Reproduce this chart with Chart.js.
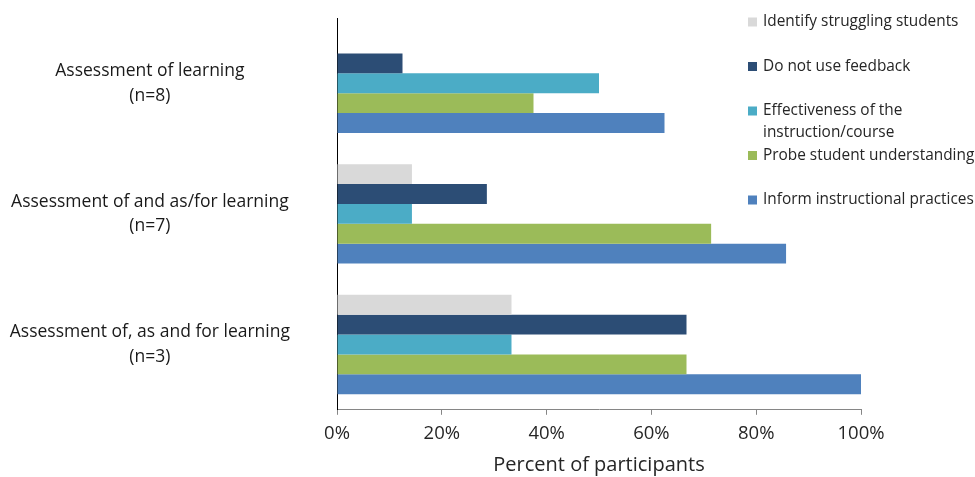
<!DOCTYPE html>
<html>
<head>
<meta charset="utf-8">
<script src="https://cdn.jsdelivr.net/npm/chart.js@4"></script>
<style>
  html, body { margin: 0; padding: 0; background: #fff; }
  #wrap { width: 975px; height: 477px; }
</style>
</head>
<body>
<div id="wrap"><canvas id="grafico" width="975" height="477"></canvas></div>
<script>
// Categorías (eje Y), cada una en dos líneas
const categorias = [
    ['Assessment of learning', '(n=8)'],
    ['Assessment of and as/for learning', '(n=7)'],
    ['Assessment of, as and for learning', '(n=3)']
];

// Porcentaje de participantes por uso
const identificar = [0, 14.3, 33.3];
const noUsan = [12.5, 28.6, 66.7];
const efectividad = [50, 14.3, 33.3];
const sondear = [37.5, 71.4, 66.7];
const informar = [62.5, 85.7, 100];

const nombresSeries = [
    'Identify struggling students',
    'Do not use feedback',
    'Effectiveness of the instruction/course',
    'Probe student understanding',
    'Inform instructional practices'
];
const coloresSeries = ['#d9d9d9', '#2c4d75', '#4bacc6', '#9bbb59', '#4f81bd'];
const ticksX = [0, 20, 40, 60, 80, 100];

const fuente = '"Open Sans", "Liberation Sans", sans-serif';

// Leyenda dibujada a mano a la derecha, con ajuste de línea
const leyendaDerecha = {
    id: 'leyendaDerecha',
    afterDraw(chart) {
        const ctx = chart.ctx;
        const xCuadro = 748, xTexto = 763, yInicio = 22, paso = 44.5, alto = 22;
        const maxAncho = chart.width - xTexto;
        ctx.save();
        ctx.font = '15.4px ' + fuente;
        ctx.textBaseline = 'middle';
        ctx.textAlign = 'left';
        chart.data.datasets.forEach((ds, i) => {
            const y = yInicio + i * paso;
            ctx.fillStyle = ds.backgroundColor;
            ctx.fillRect(xCuadro, y - 4.5, 9, 9);
            // separar en líneas según el ancho disponible
            const palabras = ds.label.split(' ');
            const lineas = [];
            let actual = '';
            palabras.forEach(p => {
                const prueba = actual ? actual + ' ' + p : p;
                if (ctx.measureText(prueba).width > maxAncho && actual) {
                    lineas.push(actual);
                    actual = p;
                } else {
                    actual = prueba;
                }
            });
            lineas.push(actual);
            ctx.fillStyle = '#262626';
            lineas.forEach((l, j) => ctx.fillText(l, xTexto, y + j * alto));
        });
        ctx.restore();
    }
};

const series = [identificar, noUsan, efectividad, sondear, informar];

const chart = new Chart(document.getElementById('grafico'), {
    type: 'bar',
    data: {
        labels: categorias,
        datasets: series.map((valores, i) => ({
            label: nombresSeries[i],
            data: valores,
            backgroundColor: coloresSeries[i],
            borderWidth: 0,
            categoryPercentage: 0.76,
            barPercentage: 1
        }))
    },
    options: {
        indexAxis: 'y',
        responsive: false,
        animation: false,
        layout: { padding: { top: 18, right: 114, left: 0, bottom: 0 } },
        plugins: {
            legend: { display: false },
            tooltip: { enabled: false }
        },
        scales: {
            x: {
                min: 0,
                max: 100,
                afterBuildTicks: (scale) => { scale.ticks = ticksX.map(v => ({ value: v })); },
                grid: { drawOnChartArea: false, drawTicks: true, tickLength: 5, color: '#868686' },
                border: { color: '#868686', width: 1 },
                ticks: {
                    callback: v => v + '%',
                    color: '#262626',
                    font: { family: fuente, size: 18.5 },
                    padding: 8
                },
                title: {
                    display: true,
                    text: 'Percent of participants',
                    color: '#262626',
                    font: { family: fuente, size: 20 },
                    padding: { top: 0, bottom: 0 }
                }
            },
            y: {
                grid: { display: false, drawTicks: false },
                border: { color: '#000', width: 1 },
                afterFit: (scale) => {
                    scale.width = 337;
                    scale.paddingTop = 0;
                    scale.paddingBottom = 0;
                },
                ticks: {
                    crossAlign: 'center',
                    padding: 47,
                    color: '#1a1a1a',
                    font: { family: fuente, size: 17.5, lineHeight: 1.4 }
                }
            }
        }
    },
    plugins: [leyendaDerecha]
});
</script>
</body>
</html>
